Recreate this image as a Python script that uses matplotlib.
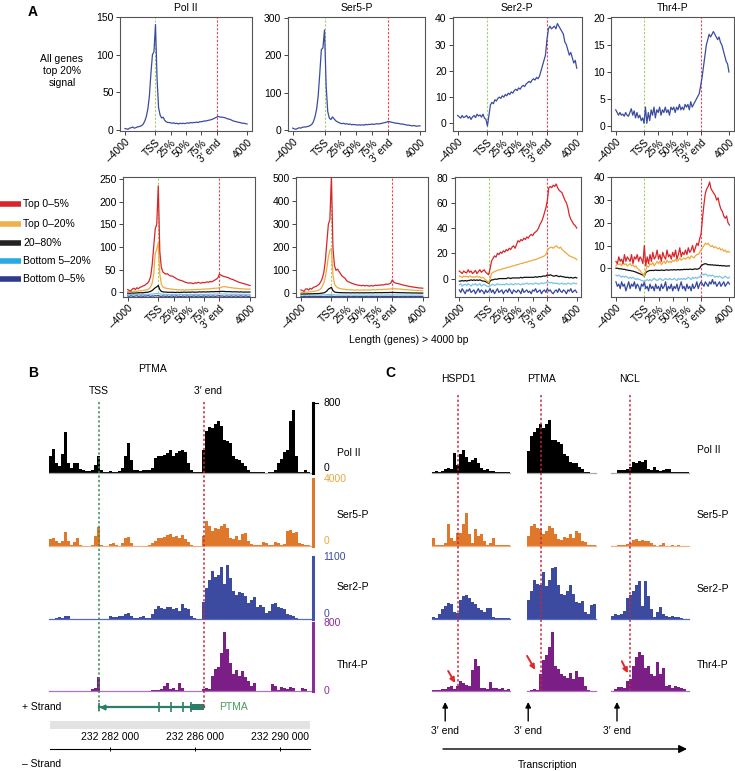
import numpy as np
import matplotlib
matplotlib.use("Agg")
import matplotlib.pyplot as plt
from matplotlib.patches import Rectangle
from matplotlib.transforms import blended_transform_factory

plt.rcParams["font.family"] = ["Liberation Sans", "DejaVu Sans"]
plt.rcParams["font.size"] = 7.5

# ---------------- Panel A data: metagene profiles (81 bins, gene body scaled) ----------------
profile_pos = np.arange(0, 401, 5)
profile_ticks = [0, 100, 150, 200, 250, 300, 400]
profile_ticklabels = ["\u20134000", "TSS", "25%", "50%", "75%", "3\u2032 end", "4000"]
tss_pos, end_pos = 100, 300

polii_top = [2, 1.5, 1, 2.5, 3, 4, 2.5, 3, 4, 4.5,
             5, 6, 8, 12, 18, 28, 45, 75, 100, 104,
             140, 70, 30, 20, 16, 17, 13, 11, 10, 10,
             9.5, 9, 9.5, 8.5, 9, 8, 9, 8.5, 9, 8.5,
             9, 9.5, 9, 10, 9.5, 10, 10, 10.5, 10, 11,
             11, 11.5, 12, 12, 12.5, 13, 13.5, 14, 15, 16,
             17, 18, 17.5, 17, 17, 16.5, 16, 15, 14.5, 14,
             13, 12, 11.5, 11, 10.5, 10, 9.5, 9, 9, 8.5,
             8]
ser5_top = [5, 3, 2, 4, 6, 5, 7, 8, 8, 9,
            10, 12, 15, 22, 35, 55, 90, 150, 215, 220,
            268, 120, 50, 32, 28, 35, 30, 25, 22, 20,
            18, 17, 18, 16, 17, 15, 16, 14, 15, 14,
            14, 13, 14, 13, 14, 13, 15, 14, 15, 15,
            16, 15, 16, 17, 16, 17, 18, 19, 20, 21,
            23, 22, 21, 20, 19, 18, 18, 17, 16, 16,
            15, 14, 13, 13, 12, 11, 12, 11, 10, 11,
            11]
ser2_top = [3, 2.5, 2, 3, 2.2, 2.5, 3, 2, 2.6, 1.5,
            2.5, 3, 2.2, 3.5, 2.8, 3.2, 2.4, 3.5, 2, 1.5,
            -1, 3, 7, 8, 7.5, 9, 8.5, 9.5, 10, 9.5,
            10.5, 10, 11, 10.5, 11.5, 11, 12, 11.5, 12.5, 13,
            12.5, 13.5, 13, 14, 14.5, 14, 15, 15.5, 16, 15.5,
            16.5, 17, 16.5, 17.5, 17, 18, 20, 22, 24, 26,
            32, 36, 37, 36, 36.5, 37, 36, 38, 37, 36,
            35, 34, 31, 30, 28, 26, 27, 25, 23, 24,
            21]
thr4_top = [3, 2.5, 2, 2.5, 2, 2.2, 1.8, 2.5, 2, 1.8,
            2.5, 3.2, 2, 2.8, 1.5, 2.5, 1.5, 2, 1, 1.5,
            0.5, 3.5, 0.5, 2.5, 1, 3, 2, 3.5, 1.5, 3,
            2.5, 3.5, 2, 3, 2.5, 3.5, 2.5, 3, 2, 3.5,
            3, 3.5, 2.5, 3.5, 3, 4, 3, 3.5, 3, 4,
            3.5, 4, 3, 4.5, 3.5, 4, 4.5, 5, 5.5, 6,
            7.5, 9, 11, 13, 15, 16, 17, 16.5, 17, 17.5,
            17, 16.5, 16, 16.5, 15.5, 15, 14, 13, 12, 11.5,
            10]

polii_t5 = [6, 4, 3, 7, 9, 6, 10, 8, 11, 12,
            14, 15, 18, 20, 25, 35, 60, 100, 140, 150,
            235, 90, 55, 45, 42, 40, 41, 38, 36, 36,
            34, 32, 30, 28, 27, 26, 25, 23, 22, 21,
            20, 21, 20, 19, 21, 20, 22, 21, 20, 22,
            21, 22, 23, 22, 24, 23, 25, 27, 29, 32,
            40, 38, 36, 35, 34, 33, 32, 30, 29, 28,
            26, 25, 23, 22, 21, 20, 19, 18, 17, 16,
            15]
polii_t20 = [2, 1, 2, 1.5, 2, 2.5, 2, 3, 3, 3.5,
             4, 4.5, 5, 6, 8, 12, 20, 40, 85, 95,
             110, 40, 18, 12, 10, 9, 8, 8, 7, 7,
             6.5, 6, 6, 5.5, 5.5, 5, 5.5, 5, 5.5, 5,
             5.5, 5.5, 6, 5.5, 6, 6, 6.5, 6, 6.5, 7,
             7, 7, 7.5, 7.5, 8, 8, 8.5, 9, 9, 9.5,
             10, 11, 12, 12.5, 12, 11.5, 11, 10.5, 10, 9.5,
             9, 9, 8.5, 8, 8, 7.5, 7.5, 7, 7, 7,
             7]
polii_mid = [-2, -2, -2, -1.5, -2, -1.5, -1.5, -1, -1, -1,
             -1, -0.5, 0, 0, 1, 2, 4, 7, 10, 12,
             15, 6, 2, 1, 0.5, 0.5, 0, 0, 0, 0,
             0, -0.5, 0, 0, -0.5, 0, 0, 0.5, 0, 0,
             0.5, 0, 0.5, 0.5, 0, 0.5, 0.5, 1, 0.5, 1,
             1, 0.5, 1, 1, 1, 1.5, 1, 1.5, 1.5, 1.5,
             2, 2, 2, 2, 1.5, 1.5, 1.5, 1.5, 1, 1,
             1, 1, 1, 0.5, 1, 0.5, 0.5, 0.5, 0.5, 0.5,
             0.5]
polii_b20 = [-5, -5.5, -5, -4.5, -5, -5.5, -5, -4.5, -5, -5,
             -4.5, -5, -4.5, -5, -4.5, -4, -4, -3.5, -3, -3,
             -2.5, -3.5, -4, -4.5, -4.5, -5, -4.5, -5, -5, -4.5,
             -5, -5, -4.5, -5, -5, -4.5, -5, -5, -4.5, -5,
             -5, -4.5, -5, -5, -4.5, -5, -4.5, -5, -4.5, -4.5,
             -4.5, -5, -4.5, -4.5, -4, -4.5, -4.5, -4, -4, -4,
             -3.5, -3.5, -4, -3.5, -4, -4, -4, -4.5, -4, -4.5,
             -4.5, -4, -4.5, -4.5, -4.5, -5, -4.5, -4.5, -5, -4.5,
             -5]
polii_b5 = [-8, -9, -7.5, -8.5, -9, -8, -7.5, -9, -8.5, -8,
            -9, -8, -8.5, -7.5, -8, -9, -8, -8.5, -7.5, -8,
            -7, -8.5, -9, -8, -8.5, -9, -8, -9.5, -8.5, -8,
            -9, -8.5, -8, -9, -8.5, -9.5, -8, -9, -8.5, -8,
            -9, -8.5, -9, -8, -8.5, -9, -8, -8.5, -9, -8.5,
            -8, -9, -8.5, -8, -9, -8.5, -8, -9, -8.5, -8,
            -7.5, -8.5, -8, -9, -8.5, -8, -9, -8.5, -8, -9,
            -8.5, -8, -9, -8.5, -8, -8.5, -9, -8, -8.5, -9,
            -8.5]

ser5_t5 = [15, 12, 8, 18, 20, 14, 22, 18, 25, 28,
           30, 35, 40, 50, 65, 90, 140, 220, 300, 320,
           510, 200, 120, 100, 105, 95, 85, 75, 70, 65,
           55, 50, 48, 45, 42, 40, 38, 36, 35, 34,
           33, 35, 32, 34, 33, 31, 34, 32, 33, 35,
           34, 36, 35, 37, 36, 38, 40, 39, 41, 44,
           58, 48, 45, 43, 42, 40, 38, 36, 35, 33,
           32, 30, 29, 28, 27, 26, 25, 24, 23, 23,
           22]
ser5_t20 = [4, 3, 4, 5, 5, 6, 6, 7, 8, 9,
            10, 12, 15, 20, 30, 45, 70, 110, 160, 185,
            195, 80, 40, 30, 25, 22, 20, 19, 18, 17,
            16, 16, 15, 15, 15, 14, 14, 15, 14, 14,
            14, 15, 14, 15, 15, 14, 15, 15, 16, 15,
            16, 16, 17, 16, 17, 17, 18, 18, 19, 19,
            21, 20, 20, 19, 19, 18, 18, 17, 16, 16,
            15, 15, 14, 14, 13, 13, 12, 12, 12, 11,
            11]
ser5_mid = [-3, -3, -2.5, -3, -2.5, -2, -2.5, -2, -2, -1.5,
            -1.5, -1, -1, 0, 1, 2, 5, 10, 18, 22,
            26, 12, 6, 4, 3.5, 3, 3, 2.5, 2.5, 2.5,
            2, 2.5, 2, 2, 2.5, 2, 2, 2.5, 2, 2,
            2.5, 2, 2, 2.5, 2, 2.5, 2.5, 2, 2.5, 3,
            2.5, 3, 3, 2.5, 3, 3, 3.5, 3, 3.5, 3.5,
            4, 3.5, 3.5, 3, 3, 3, 2.5, 2.5, 2.5, 2,
            2, 2, 2, 1.5, 1.5, 1.5, 1.5, 1, 1, 1,
            1]
ser5_b20 = [-8, -7.5, -8, -8.5, -7.5, -8, -8, -7.5, -8, -8.5,
            -8, -7.5, -8, -7.5, -7, -7, -6.5, -6, -5.5, -5,
            -5, -6, -7, -7.5, -7.5, -8, -7.5, -8, -8, -7.5,
            -8, -8.5, -8, -7.5, -8, -8, -8.5, -8, -7.5, -8,
            -8, -7.5, -8, -8.5, -8, -7.5, -8, -8, -7.5, -8,
            -7.5, -8, -8, -7.5, -8, -7.5, -7.5, -7, -7.5, -7,
            -6.5, -7, -7, -7.5, -7, -7.5, -7.5, -8, -7.5, -8,
            -7.5, -8, -8, -7.5, -8, -8, -7.5, -8, -8, -7.5,
            -8]
ser5_b5 = [-14, -15, -13.5, -14.5, -15, -14, -13.5, -15, -14.5, -14,
           -15, -14, -14.5, -13.5, -14, -15, -14, -13.5, -13, -13,
           -12.5, -13.5, -14.5, -14, -15, -14, -14.5, -15, -14, -14.5,
           -15, -14, -14.5, -15, -14, -13.5, -14.5, -15, -14, -14.5,
           -14, -15, -14.5, -14, -15, -14.5, -14, -13.5, -14.5, -15,
           -14, -14.5, -15, -14, -14.5, -14, -13.5, -14.5, -14, -13.5,
           -13, -14, -14.5, -14, -15, -14.5, -14, -15, -14.5, -14,
           -15, -14.5, -14, -14.5, -15, -14, -14.5, -15, -14, -14.5,
           -14.5]

ser2_t5 = [6, 5, 4, 6, 5, 4.5, 7, 5, 6, 4,
           5, 6.5, 4, 5.5, 7, 5, 6, 7, 5, 4,
           3, 8, 14, 16, 18, 17, 20, 19, 21, 20,
           22, 21, 23, 22, 24, 23, 25, 26, 24, 27,
           30, 29, 31, 30, 32, 31, 33, 32, 34, 35,
           34, 36, 37, 38, 40, 43, 45, 48, 52, 56,
           62, 72, 73, 72, 74, 73, 75, 72, 70, 69,
           68, 65, 62, 60, 56, 50, 47, 45, 43, 42,
           40]
ser2_t20 = [2, 1.5, 1, 2, 1.5, 2, 1, 2, 1.5, 1,
            1.5, 1, 2, 1, 1.5, 0.5, 1, 0, -1, -2,
            -3.5, 0, 4, 5, 5.5, 6, 6.5, 7, 7, 7.5,
            8, 8, 8.5, 9, 9, 9.5, 10, 10, 10.5, 11,
            11, 11.5, 12, 12, 12.5, 13, 13, 13.5, 14, 14,
            14.5, 15, 15, 15.5, 16, 16.5, 17, 17.5, 18, 19,
            22, 24, 24.5, 25, 24, 25, 26, 25, 24, 25,
            23, 22, 21, 20, 19, 18, 17.5, 17, 16.5, 16,
            15]
ser2_mid = [-2, -2, -1.5, -2, -1.5, -2, -1.5, -1.5, -1, -1.5,
            -1, -1.5, -1, -1.5, -1, -1.5, -2, -2, -2.5, -3,
            -4, -2, -1, -1, -0.5, -0.5, -0.5, 0, 0, 0,
            0, 0, 0, 0.5, 0.5, 0, 0.5, 0.5, 0.5, 0.5,
            0.5, 0.5, 1, 0.5, 1, 1, 1, 1, 1, 1,
            1, 1, 1.5, 1, 1.5, 1.5, 1.5, 2, 2, 2,
            3, 2.5, 3, 2.5, 2, 2, 2.5, 2, 1.5, 2,
            1.5, 1.5, 1, 1, 1, 0.5, 1, 0.5, 0.5, 1,
            0.5]
ser2_b20 = [-5, -4, -6, -5, -4.5, -5.5, -4, -5, -6, -4.5,
            -5, -4, -5.5, -5, -4, -6, -5, -4.5, -5.5, -6,
            -6.5, -5.5, -5, -4.5, -5.5, -5, -4, -5, -4.5, -5,
            -4.5, -5, -4, -4.5, -5, -4, -4.5, -5, -4, -4.5,
            -4, -4.5, -5, -4, -4.5, -4, -3.5, -4.5, -4, -4,
            -4.5, -4, -3.5, -4, -4.5, -4, -3.5, -4, -3.5, -3.5,
            -2.5, -3, -3.5, -3, -4, -3.5, -4, -3.5, -4.5, -4,
            -3.5, -4.5, -4, -4.5, -3.5, -4, -4.5, -4, -3.5, -4,
            -4]
ser2_b5 = [-9, -11, -8, -10, -12, -9, -10, -8, -11, -10,
           -9, -12, -10, -8, -11, -9, -10, -12, -9, -11,
           -10, -8, -11, -9, -12, -10, -8, -11, -10, -9,
           -12, -10, -9, -11, -8, -10, -12, -9, -10, -11,
           -9, -10, -12, -8, -11, -10, -9, -11, -10, -12,
           -9, -10, -8, -11, -10, -9, -12, -10, -9, -11,
           -8, -10, -9, -11, -12, -10, -9, -11, -8, -10,
           -11, -9, -10, -12, -9, -10, -8, -11, -10, -9,
           -11]

thr4_t5 = [3, 2, 5, 3, 4, 2, 6, 3, 5, 4,
           3, 6, 2, 5, 4, 6, 3, 5, 4, 2,
           10, 1, 5, 2, 6, 3, 7, 4, 5, 8,
           4, 6, 3, 7, 5, 4, 8, 5, 6, 4,
           7, 5, 8, 4, 6, 9, 5, 7, 6, 8,
           6, 9, 7, 8, 10, 7, 9, 11, 10, 13,
           15, 22, 28, 33, 35, 36, 38, 35, 34, 33,
           32, 30, 31, 28, 26, 25, 23, 22, 23, 20,
           19]
thr4_t20 = [1, 2, 1.5, 2, 1, 2.5, 1.5, 2, 1, 1.5,
            2, 1, 1.5, 0.5, 1, 0, -0.5, -1, -2, -2.5,
            -3.5, -1, 1, 0.5, 2, 1.5, 2.5, 1, 2, 3,
            2, 3, 1.5, 2.5, 3, 2, 3.5, 2.5, 3, 2.5,
            3.5, 3, 4, 3, 3.5, 4.5, 3.5, 4, 4.5, 4,
            4.5, 5, 4, 5.5, 5, 4.5, 5.5, 6, 6, 7,
            8, 9, 10, 11, 10.5, 11, 10, 9.5, 10, 9,
            9.5, 9, 8.5, 9, 8, 8.5, 7.5, 8, 7, 7.5,
            7]
thr4_mid = [0, 0, -0.2, -0.3, -0.3, -0.5, -0.5, -0.7, -0.8, -1,
            -1, -1.2, -1.3, -1.5, -1.7, -2, -2.2, -2.5, -2.8, -3,
            -3.5, -2, -1.5, -1.2, -1, -1, -1, -1, -0.8, -1,
            -0.9, -1, -0.8, -0.9, -1, -0.8, -0.7, -0.9, -0.8, -0.7,
            -0.8, -0.6, -0.8, -0.7, -0.6, -0.8, -0.6, -0.7, -0.5, -0.6,
            -0.5, -0.6, -0.4, -0.5, -0.6, -0.4, -0.3, -0.5, -0.3, 0,
            1, 1.5, 1.8, 2, 1.8, 1.5, 1.6, 1.4, 1.5, 1.3,
            1.4, 1.2, 1.3, 1.1, 1.2, 1, 1.1, 1, 0.9, 1,
            1]
thr4_b20 = [-3, -3.5, -3, -3.5, -4, -3.5, -4, -3.5, -4, -4.5,
            -4, -4.5, -4, -4.5, -5, -4.5, -5, -5, -5.5, -5.5,
            -6, -5.5, -5, -5.5, -5, -5.5, -5, -4.5, -5, -5.5,
            -5, -4.5, -5, -5.5, -5, -4.5, -5, -5, -4.5, -5,
            -5, -4.5, -5, -5.5, -4.5, -5, -4.5, -5, -4.5, -5,
            -4.5, -4, -4.5, -5, -4, -4.5, -4, -4.5, -4, -4,
            -3, -2.5, -3, -2.5, -3, -3.5, -3, -3.5, -3, -3.5,
            -4, -3.5, -4, -3.5, -4, -4.5, -4, -3.5, -4, -4.5,
            -4]
thr4_b5 = [-6, -8, -7, -9, -6, -8, -7, -10, -8, -6,
           -9, -7, -8, -6, -9, -7, -8, -10, -7, -8,
           -6, -9, -8, -10, -7, -9, -8, -10, -7, -9,
           -8, -10, -7, -9, -8, -6, -10, -8, -9, -7,
           -10, -8, -9, -7, -10, -8, -6, -9, -8, -10,
           -7, -9, -8, -10, -7, -9, -8, -6, -9, -7,
           -6, -7, -8, -6, -7, -8, -6, -7, -5, -7,
           -6, -8, -7, -6, -8, -7, -6, -8, -7, -6,
           -7]

group_labels = ["Top 0\u20135%", "Top 0\u201320%", "20\u201380%", "Bottom 5\u201320%", "Bottom 0\u20135%"]

# ---------------- Panel B data: PTMA locus coverage ----------------
b_start, b_end = 232279130, 232291550
scale_start, scale_end = 232279180, 232291410
tss = 232281480
gene_end = 232286420
thick_start = 232285760
exons = [232284300, 232284870, 232285430, 232285810]
coord_ticks = [232282000, 232286000, 232290000]

b_polii = [200, 270, 120, 80, 220, 470, 120, 60, 120, 110,
           50, 30, 25, 20, 30, 90, 190, 40, 15, 15,
           20, 15, 10, 25, 60, 200, 340, 150, 40, 30,
           25, 30, 30, 35, 60, 170, 200, 190, 210, 230,
           260, 200, 230, 250, 260, 240, 120, 30, 15, 10,
           8, 260, 480, 530, 520, 560, 600, 540, 380, 370,
           340, 200, 160, 150, 110, 80, 40, 15, 10, 8,
           8, 6, 5, 8, 15, 40, 110, 160, 240, 260,
           600, 715, 200, 15, 10, 35, 10, 3]
b_ser5 = [400, 500, 300, 150, 300, 850, 300, 50, 250, 450,
          80, 20, 20, 15, 30, 600, 1150, 60, 10, 10,
          100, 160, 80, 20, 150, 500, 550, 200, 10, 10,
          15, 10, 20, 30, 150, 300, 450, 500, 550, 650,
          700, 550, 600, 500, 650, 400, 250, 30, 10, 5,
          10, 600, 1500, 1200, 900, 1100, 1000, 1200, 1300, 1100,
          500, 400, 600, 350, 700, 800, 300, 100, 50, 80,
          40, 250, 200, 60, 40, 250, 150, 60, 100, 900,
          950, 800, 850, 150, 100, 40, 60, 20]
b_ser2 = [5, 5, 10, 30, 20, 50, 45, 5, 3, 2,
          2, 3, 2, 2, 3, 2, 3, 2, 2, 5,
          60, 40, 30, 60, 50, 90, 100, 60, 20, 10,
          40, 50, 20, 10, 80, 180, 230, 200, 170, 210,
          220, 180, 200, 150, 260, 200, 170, 60, 10, 5,
          5, 300, 550, 700, 860, 750, 780, 920, 620, 950,
          720, 500, 420, 480, 460, 400, 280, 330, 390, 220,
          240, 210, 100, 150, 260, 280, 210, 190, 170, 90,
          70, 50, 20, 5, 3, 2, 2, 2]
b_thr4 = [2, 0, 2, 0, 3, 0, 2, 0, 2, 0,
          1, 2, 0, 5, 25, 40, 170, 5, 0, 2,
          0, 1, 0, 0, 2, 0, 1, 0, 0, 2,
          0, 1, 3, 5, 10, 15, 10, 20, 60, 90,
          20, 30, 15, 100, 40, 5, 2, 0, 1, 0,
          2, 20, 30, 20, 180, 260, 280, 450, 700, 500,
          330, 200, 250, 180, 240, 170, 120, 60, 90, 5,
          2, 3, 5, 2, 80, 60, 10, 50, 40, 20,
          50, 40, 5, 3, 30, 25, 2, 0]

# ---------------- Panel C data: 3' end regions ----------------
c_genes = ["HSPD1", "PTMA", "NCL"]
c_end_bin = [8.7, 4.7, 6.3]

hspd1_polii = [10, 25, 15, 20, 50, 60, 50, 230, 90, 220, 260, 180, 130, 150, 170, 110, 60, 30, 50, 20, 25, 10, 8, 15, 10, 10]
ptma_polii = [250, 420, 470, 520, 560, 510, 560, 610, 380, 380, 350, 330, 220, 190, 130, 120, 110, 70, 50, 10, 8, 5, 5]
ncl_polii = [0, 0, 30, 40, 35, 50, 70, 130, 120, 140, 130, 145, 50, 40, 70, 40, 25, 30, 45, 50, 10, 8, 10, 8, 10, 8]

hspd1_ser5 = [450, 40, 40, 30, 200, 1300, 500, 300, 800, 750, 1300, 2000, 700, 200, 1000, 600, 700, 300, 50, 200, 500, 40, 30, 40, 30, 30]
ptma_ser5 = [600, 1200, 1300, 1100, 1000, 700, 900, 1200, 1100, 700, 400, 350, 540, 450, 700, 500, 900, 800, 300, 250, 60, 40, 80]
ncl_ser5 = [0, 0, 60, 80, 50, 100, 150, 350, 400, 300, 350, 300, 280, 150, 60, 20, 40, 200, 20, 10, 40, 10, 30, 20, 10, 5]

hspd1_ser2 = [30, 20, 80, 170, 230, 290, 270, 130, 100, 330, 400, 430, 380, 300, 260, 200, 160, 130, 190, 200, 40, 20, 15, 20, 20, 25]
ptma_ser2 = [340, 500, 700, 620, 600, 840, 580, 700, 900, 920, 600, 450, 420, 500, 610, 450, 300, 280, 320, 130, 90, 250, 260]
ncl_ser2 = [60, 80, 70, 90, 150, 380, 420, 490, 600, 680, 230, 670, 400, 170, 30, 120, 220, 80, 60, 40, 50, 30, 40, 10, 0, 0]

hspd1_thr4 = [10, 15, 10, 25, 20, 50, 55, 20, 60, 120, 90, 70, 60, 250, 380, 300, 40, 30, 20, 110, 30, 40, 20, 30, 15, 20]
ptma_thr4 = [5, 10, 20, 15, 200, 360, 420, 520, 700, 300, 260, 200, 180, 150, 210, 140, 230, 160, 170, 60, 10, 5, 5]
ncl_thr4 = [0, 20, 45, 50, 40, 120, 140, 300, 400, 460, 420, 270, 300, 200, 180, 340, 200, 270, 60, 70, 40, 60, 50, 30, 20, 5]

# ---------------- layout ----------------
W, H = 735, 771
fig = plt.figure(figsize=(W / 100, H / 100), dpi=100)


def px_box(left, top, right, bottom):
    return [left / W, 1 - bottom / H, (right - left) / W, (bottom - top) / H]


names = ["Pol II", "Ser5-P", "Ser2-P", "Thr4-P"]
top_cols = [(120.1, 251.9), (287.6, 425.1), (452.9, 581.5), (611.2, 733.5)]
bot_cols = [(122.8, 254.9), (296.1, 427.6), (454.6, 581.4), (611.4, 734.0)]
top_series = [polii_top, ser5_top, ser2_top, thr4_top]
top_ylims = [(-1.3, 150), (-2.7, 302.7), (-2.9, 40.5), (-0.93, 20.2)]
top_yticks = [[0, 50, 100, 150], [0, 100, 200, 300], [0, 10, 20, 30, 40], [0, 5, 10, 15, 20]]
bot_series = [[polii_t5, polii_t20, polii_mid, polii_b20, polii_b5],
              [ser5_t5, ser5_t20, ser5_mid, ser5_b20, ser5_b5],
              [ser2_t5, ser2_t20, ser2_mid, ser2_b20, ser2_b5],
              [thr4_t5, thr4_t20, thr4_mid, thr4_b20, thr4_b5]]
bot_ylims = [(-10.4, 254.5), (-16, 505), (-14.6, 80.5), (-12.7, 40.2)]
bot_yticks = [[0, 50, 100, 150, 200, 250], [0, 100, 200, 300, 400, 500],
              [0, 20, 40, 60, 80], [0, 10, 20, 30, 40]]
group_colors = ["#d7262b", "#eeaa3c", "#111111", "#7cc3e3", "#3446a0"]
legend_colors = ["#d7262b", "#eeb24c", "#222222", "#2aaae2", "#2e3990"]
top_color = "#3a4ca0"


def style_profile(ax, ylim, yticks):
    ax.set_xlim(-16, 416)
    ax.set_ylim(*ylim)
    ax.set_yticks(yticks)
    ax.set_xticks(profile_ticks)
    ax.set_xticklabels(profile_ticklabels, rotation=45, ha="right", va="top",
                       rotation_mode="anchor")
    ax.tick_params(length=3, width=0.7, pad=1.5, labelsize=7.5, color="#444444")
    for s in ax.spines.values():
        s.set_linewidth(0.8)
        s.set_color("#555555")
    ax.axvline(tss_pos, color="#a5cf6a", lw=0.8, ls=(0, (2, 1.5)), zorder=1)
    ax.axvline(end_pos, color="#e8474c", lw=0.8, ls=(0, (2, 1.5)), zorder=1)


for i in range(4):
    ax = fig.add_axes(px_box(top_cols[i][0], 17, top_cols[i][1], 131))
    ax.plot(profile_pos, top_series[i], color=top_color, lw=0.9, zorder=3)
    style_profile(ax, top_ylims[i], top_yticks[i])
    ax.set_title(names[i], fontsize=7.5, pad=4)

    ax = fig.add_axes(px_box(bot_cols[i][0], 177, bot_cols[i][1], 297))
    for series, col in list(zip(bot_series[i], group_colors))[::-1]:
        ax.plot(profile_pos, series, color=col, lw=0.9, zorder=3)
    style_profile(ax, bot_ylims[i], bot_yticks[i])

# ---------------- Panel B tracks ----------------
track_rows = [(403, 473), (479, 546), (557, 619), (623, 691)]
track_max = [800, 4000, 1100, 800]
fill_cols = ["#000000", "#e0782c", "#3c4aa0", "#7b1f86"]
scale_cols = ["#000000", "#e0782c", "#4152a8", "#8a2e92"]
label_cols = ["#000000", "#e9a840", "#3c4aa0", "#8a2e92"]
base_cols = ["#aaaaaa", "#f0b080", "#5a6ac0", "#b070c0"]
zero_va = ["bottom", "bottom", "bottom", "center"]
b_tracks = [b_polii, b_ser5, b_ser2, b_thr4]
b_edges = np.linspace(b_start, b_end, len(b_polii) + 1)

b_axes = []
for i, (top, bot) in enumerate(track_rows):
    ax = fig.add_axes(px_box(49, top, 313, bot))
    ax.stairs(b_tracks[i], b_edges, fill=True, color=fill_cols[i], lw=0)
    ax.axhline(0, color=base_cols[i], lw=0.9, clip_on=False)
    ax.set_xlim(b_start, b_end)
    ax.set_ylim(0, track_max[i])
    ax.set_xticks([])
    ax.set_yticks([])
    for side in ["top", "left", "bottom"]:
        ax.spines[side].set_visible(False)
    ax.spines["right"].set_color(scale_cols[i])
    ax.spines["right"].set_linewidth(2.2)
    tr = blended_transform_factory(ax.transAxes, ax.transData)
    ax.text(1.04, track_max[i], str(track_max[i]), transform=tr, color=label_cols[i],
            ha="left", va="center", fontsize=7.5)
    ax.text(1.04, 0, "0", transform=tr, color=label_cols[i], ha="left",
            va=zero_va[i], fontsize=7.5)
    if i == 0:
        ax.plot([1.0, 1.02], [track_max[i]] * 2, transform=tr, color="k", lw=0.8,
                clip_on=False)
    b_axes.append(ax)

# gene model
gc = "#2e7c6c"
axg = fig.add_axes(px_box(49, 700, 313, 714))
axg.set_xlim(b_start, b_end)
axg.set_ylim(-1, 1)
axg.axis("off")
axg.plot([tss, gene_end], [0, 0], color=gc, lw=1.6)
axg.add_patch(Rectangle((thick_start, -0.45), gene_end - thick_start, 0.9, color=gc, lw=0))
axg.vlines(exons, -0.75, 0.75, color=gc, lw=1.2)
axg.vlines([tss], -0.6, 0.6, color=gc, lw=1.2)
axg.plot([tss + 180], [0], marker="<", color=gc, ms=3.5)

# genomic coordinate axis
axs = fig.add_axes(px_box(50, 745, 310, 749))
axs.set_xlim(scale_start, scale_end)
axs.set_ylim(0, 1)
axs.set_yticks([])
for side in ["top", "left", "right"]:
    axs.spines[side].set_visible(False)
axs.spines["bottom"].set_linewidth(0.8)
axs.set_xticks(coord_ticks)
axs.set_xticklabels([f"{v:,}".replace(",", " ") for v in coord_ticks])
axs.tick_params(axis="x", direction="inout", length=3, width=0.7, labelbottom=False,
                labeltop=True, pad=1, labelsize=7.5)
axs.patch.set_visible(False)

# ---------------- Panel C tracks ----------------
c_cols = [(432, 510), (527, 596), (611, 689)]
c_tracks = [[hspd1_polii, hspd1_ser5, hspd1_ser2, hspd1_thr4],
            [ptma_polii, ptma_ser5, ptma_ser2, ptma_thr4],
            [ncl_polii, ncl_ser5, ncl_ser2, ncl_thr4]]
c_arrow_tip = [(-1.0, 95), (-2.0, 250), (-0.7, 210)]
c_arrow_off = [(-5, 8.6), (-5.8, 10), (-4.3, 8.6)]

c_axes = []
for g in range(3):
    col_axes = []
    for i, (top, bot) in enumerate(track_rows):
        vals = c_tracks[g][i]
        ax = fig.add_axes(px_box(c_cols[g][0], top, c_cols[g][1], bot))
        ax.stairs(vals, np.arange(len(vals) + 1), fill=True, color=fill_cols[i], lw=0)
        ax.axhline(0, color=base_cols[i], lw=0.9, clip_on=False)
        ax.set_xlim(0, len(vals))
        ax.set_ylim(0, track_max[i])
        ax.axis("off")
        col_axes.append(ax)
    tip = (c_end_bin[g] + c_arrow_tip[g][0], c_arrow_tip[g][1])
    col_axes[3].annotate("", xy=tip, xytext=c_arrow_off[g], textcoords="offset points",
                         arrowprops=dict(arrowstyle="-|>", color="#e3262b", lw=1.4,
                                         mutation_scale=7, shrinkA=0, shrinkB=0))
    c_axes.append(col_axes)

# ---------------- overlay: text, guide lines, arrows ----------------
ov = fig.add_axes([0, 0, 1, 1])
ov.set_xlim(0, W)
ov.set_ylim(H, 0)
ov.axis("off")
ov.set_zorder(10)
ov.patch.set_visible(False)

ov.text(33, 12, "A", fontsize=10, fontweight="bold", ha="center", va="center")
ov.text(33, 373, "B", fontsize=10, fontweight="bold", ha="center", va="center")
ov.text(390, 373, "C", fontsize=10, fontweight="bold", ha="center", va="center")
ov.text(62, 71, "All genes\ntop 20%\nsignal", ha="center", va="center", linespacing=1.25)
ov.text(409, 340, "Length (genes) > 4000 bp", ha="center", va="center")

legend_y = [204, 224, 243, 261, 279]
for y, c, lab in zip(legend_y, legend_colors, group_labels):
    ov.plot([0, 21], [y, y], color=c, lw=4, solid_capstyle="butt")
    ov.text(23, y, lab, va="center", ha="left")

# panel B annotations
trb = blended_transform_factory(b_axes[0].transData, ov.transData)
ov.plot([tss, tss], [402, 712], transform=trb, color="#3a8a4f", lw=1.1, ls=(0, (1.5, 1.5)))
ov.plot([gene_end, gene_end], [402, 707], transform=trb, color="#c8283c", lw=1.1,
        ls=(0, (1.5, 1.5)))
ov.text(153, 369, "PTMA", ha="center", va="center")
ov.text(99, 391, "TSS", ha="center", va="center")
ov.text(208, 391, "3\u2032 end", ha="center", va="center")
ov.text(234, 707, "PTMA", color="#4a9a5c", ha="center", va="center")
ov.text(22, 707, "+ Strand", ha="left", va="center")
ov.text(22, 764, "\u2013 Strand", ha="left", va="center")
ov.add_patch(Rectangle((50, 721), 260, 8, color="#e3e3e3", lw=0))

label_y = [453, 515, 587, 665]
for name, y in zip(names, label_y):
    ov.text(337, y, name, ha="left", va="center")
for name, y in zip(names, [450, 515, 589, 665]):
    ov.text(697, y, name, ha="left", va="center")

# panel C annotations
for g in range(3):
    trc = blended_transform_factory(c_axes[g][0].transData, ov.transData)
    x_end = c_end_bin[g]
    ov.plot([x_end, x_end], [395, 690], transform=trc, color="#c8283c", lw=1.1,
            ls=(0, (1.5, 1.5)))
    x_lab = (c_axes[g][0].transData.transform((x_end, 0))[0]) / fig.dpi * 100
    ov.text(x_lab, 379, c_genes[g], ha="center", va="center")
    x_up = x_end - 4.3
    ov.annotate("", xy=(x_up, 702), xytext=(x_up, 721), xycoords=trc, textcoords=trc,
                arrowprops=dict(arrowstyle="-|>", color="k", lw=1.0, mutation_scale=8,
                                shrinkA=0, shrinkB=0))
    ov.text(x_up, 731, "3\u2032 end", transform=trc, ha="center", va="center")

ov.annotate("", xy=(687, 749), xytext=(443, 749),
            arrowprops=dict(arrowstyle="-|>", color="k", lw=1.0, mutation_scale=12,
                            shrinkA=0, shrinkB=0))
ov.text(548, 765, "Transcription", ha="center", va="center")

fig.savefig("out.png", dpi=100)
